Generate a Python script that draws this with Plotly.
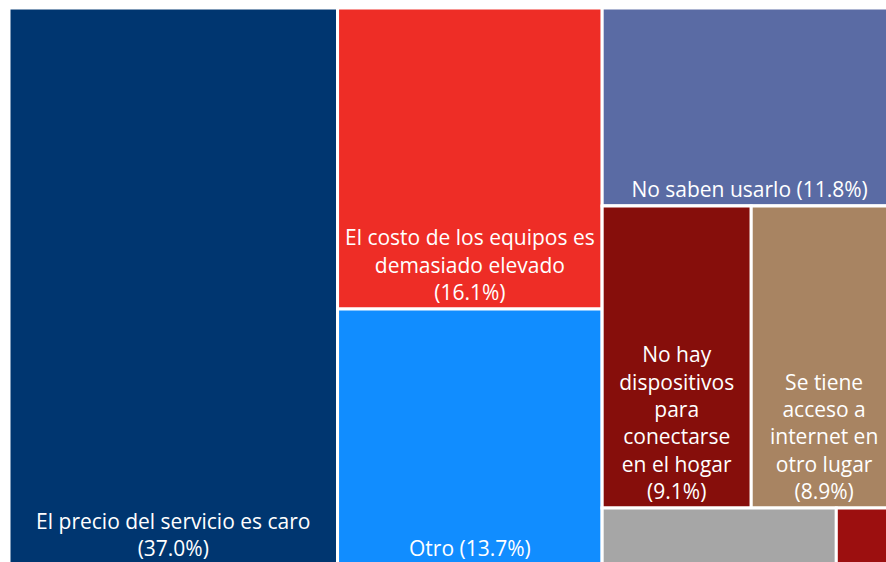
import plotly.graph_objects as go

# motivos por los que no se tiene internet (%)
ids = ["precio", "g1", "costo", "otro", "g2", "saben", "g3", "dispositivos",
       "acceso", "g4", "resto1", "resto2"]
parents = ["", "", "g1", "g1", "", "g2", "g2", "g3", "g3", "g2", "g4", "g4"]
labels = ["El precio del servicio es caro<br>(37.0%)", "",
          "El costo de los equipos es<br>demasiado elevado<br>(16.1%)",
          "Otro (13.7%)", "", "No saben usarlo (11.8%)", "",
          "No hay<br>dispositivos<br>para<br>conectarse<br>en el hogar<br>(9.1%)",
          "Se tiene<br>acceso a<br>internet en<br>otro lugar<br>(8.9%)", "", "", ""]
values = [37.0, 0, 16.1, 13.7, 0, 11.8, 0, 9.1, 8.9, 0, 2.7, 0.7]
colors = ["#003670", "#FFFFFF", "#EE2D26", "#118DFF", "#FFFFFF", "#5A6BA4", "#FFFFFF",
          "#860E0B", "#A88462", "#FFFFFF", "#A6A6A6", "#9C0F0F"]

fig = go.Figure(go.Treemap(
    ids=ids, parents=parents, labels=labels, values=values,
    branchvalues="remainder", sort=False,
    tiling=dict(packing="slice-dice", pad=0),
    marker=dict(colors=colors, line=dict(color="#FFFFFF", width=3),
                pad=dict(t=0, l=0, r=0, b=0)),
    textinfo="label", textposition="bottom center",
    textfont=dict(family="Open Sans", size=21, color="#FFFFFF"),
    pathbar=dict(visible=False),
    hoverinfo="skip",
))

# el gráfico original queda recortado a la derecha y abajo
fig.update_layout(width=897, height=565, margin=dict(l=9, r=0, t=8, b=0),
                  paper_bgcolor="#FFFFFF", uniformtext=dict(minsize=21, mode="show"))
fig.write_html("out.html", config={"displayModeBar": False},
               post_script="document.body.style.margin='0';document.body.style.overflow='hidden';")
